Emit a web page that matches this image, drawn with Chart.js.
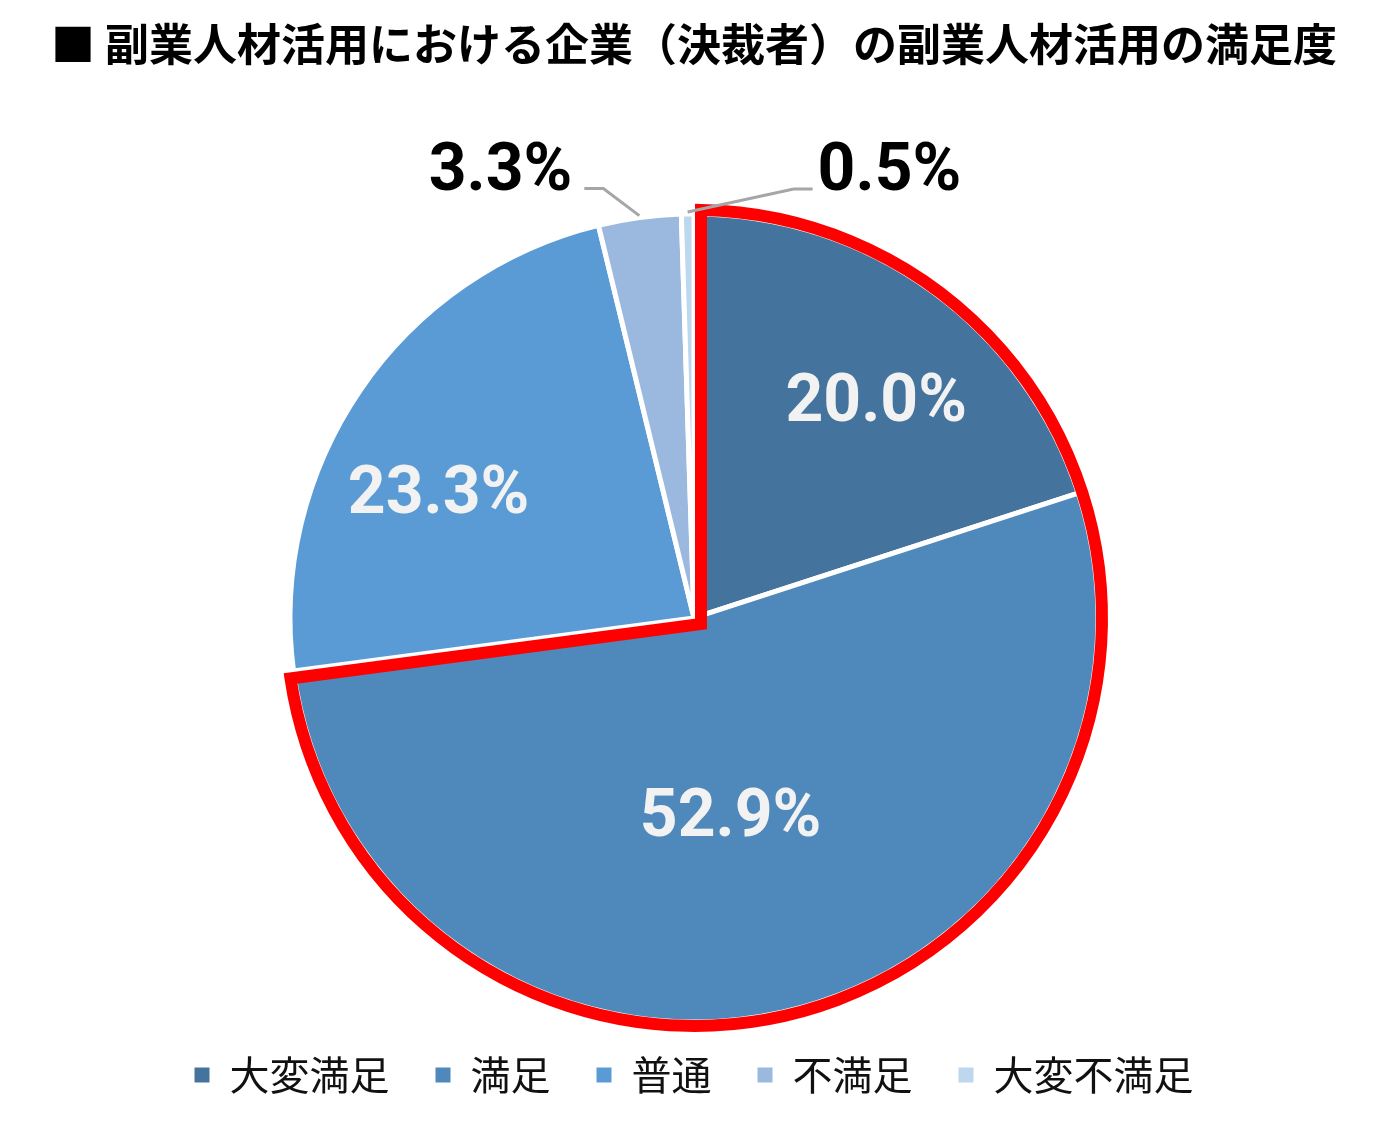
<!DOCTYPE html>
<html>
<head>
<meta charset="utf-8">
<script src="https://cdn.jsdelivr.net/npm/chart.js@4/dist/chart.umd.min.js"></script>
<style>
  html, body { margin: 0; padding: 0; background: #fff; }
  #chart { display: block; }
</style>
</head>
<body>
<canvas id="chart" width="1383" height="1142"></canvas>
<script>
// data
const categories = ['大変満足', '満足', '普通', '不満足', '大変不満足']
const shares = [20.0, 52.9, 23.3, 3.3, 0.5]
const sliceColors = ['#44739d', '#4f89bb', '#5b9bd5', '#9bb9df', '#bdd7ee']
const titleText = '■ 副業人材活用における企業（決裁者）の副業人材活用の満足度'

// percent labels: inside ones get a small nudge, outside ones a leader line
const sliceLabels = {
  id: 'sliceLabels',
  afterDatasetsDraw(chart, args, opts) {
    const ctx = chart.ctx
    const arcs = chart.getDatasetMeta(0).data
    ctx.save()
    ctx.font = opts.font
    arcs.forEach((arc, i) => {
      const { x, y, startAngle, endAngle, outerRadius } = arc.getProps(
        ['x', 'y', 'startAngle', 'endAngle', 'outerRadius'],
        true
      )
      const mid = (startAngle + endAngle) / 2
      const text = shares[i].toFixed(1) + '%'
      const call = opts.callouts[i]
      if (call) {
        const ex = x + Math.cos(mid) * (outerRadius + 2)
        const ey = y + Math.sin(mid) * (outerRadius + 2)
        const kx = ex + call.elbow[0]
        const ky = ey + call.elbow[1]
        const tx = kx + call.tail
        ctx.strokeStyle = '#a6a6a6'
        ctx.lineWidth = 3
        ctx.beginPath()
        ctx.moveTo(ex, ey)
        ctx.lineTo(kx, ky)
        ctx.lineTo(tx, ky)
        ctx.stroke()
        ctx.fillStyle = '#000'
        ctx.textBaseline = 'alphabetic'
        ctx.textAlign = call.tail < 0 ? 'right' : 'left'
        ctx.fillText(text, call.tail < 0 ? tx - 12 : tx + 5, ky + 1)
      } else {
        const nudge = opts.nudges[i]
        const lx = x + Math.cos(mid) * outerRadius * 0.7 + nudge[0]
        const ly = y + Math.sin(mid) * outerRadius * 0.7 + nudge[1]
        ctx.fillStyle = '#f2f2f2'
        ctx.textAlign = 'center'
        ctx.textBaseline = 'middle'
        ctx.fillText(text, lx, ly)
      }
    })
    ctx.restore()
  },
}

// red frame around the first two slices (satisfied total)
const redFrame = {
  id: 'redFrame',
  afterDatasetsDraw(chart, args, opts) {
    const ctx = chart.ctx
    const arcs = chart.getDatasetMeta(0).data
    const first = arcs[0].getProps(['x', 'y', 'startAngle', 'outerRadius'], true)
    const last = arcs[opts.lastIndex].getProps(['endAngle'], true)
    const a0 = first.startAngle
    const a1 = last.endAngle
    const R = first.outerRadius + opts.grow
    const d = opts.inset
    const half = (a1 - a0) / 2
    const vd = d / Math.sin(half)
    ctx.save()
    ctx.strokeStyle = opts.color
    ctx.lineWidth = opts.width
    ctx.lineJoin = 'miter'
    ctx.beginPath()
    ctx.moveTo(first.x + Math.cos(a0 + half) * vd, first.y + Math.sin(a0 + half) * vd)
    ctx.arc(first.x, first.y, R, a0 + d / R, a1 - d / R)
    ctx.closePath()
    ctx.stroke()
    ctx.restore()
  },
}

const ctx = document.getElementById('chart')

new Chart(ctx, {
  type: 'pie',
  data: {
    labels: categories,
    datasets: [
      {
        data: shares,
        backgroundColor: sliceColors,
        borderColor: '#ffffff',
        borderWidth: 5,
        radius: 404,
      },
    ],
  },
  options: {
    responsive: false,
    animation: false,
    devicePixelRatio: 1,
    layout: {
      padding: { left: 5, bottom: 37 },
    },
    plugins: {
      title: {
        display: true,
        text: titleText,
        color: '#000',
        font: { family: '"Noto Sans CJK JP", sans-serif', size: 44, weight: 'bold' },
        padding: { top: 18, bottom: 156 },
      },
      legend: {
        display: true,
        position: 'bottom',
        labels: {
          color: '#111',
          font: { family: '"Noto Sans CJK JP", sans-serif', size: 40 },
          boxWidth: 15,
          boxHeight: 15,
          padding: 46,
          generateLabels: (chart) =>
            Chart.overrides.pie.plugins.legend.labels
              .generateLabels(chart)
              .map((item) => ({ ...item, lineWidth: 0, strokeStyle: 'rgba(0,0,0,0)' })),
        },
      },
      tooltip: { enabled: false },
      sliceLabels: {
        font: 'bold 66px Roboto',
        nudges: [[16, 15], [-26, -74], [-22, 38]],
        callouts: {
          3: { elbow: [-36, -27], tail: -19 },
          4: { elbow: [106, -23], tail: 19 },
        },
      },
      redFrame: {
        lastIndex: 1,
        color: '#ff0000',
        width: 12,
        grow: 4,
        inset: 7,
      },
    },
  },
  plugins: [redFrame, sliceLabels],
})
</script>
</body>
</html>
